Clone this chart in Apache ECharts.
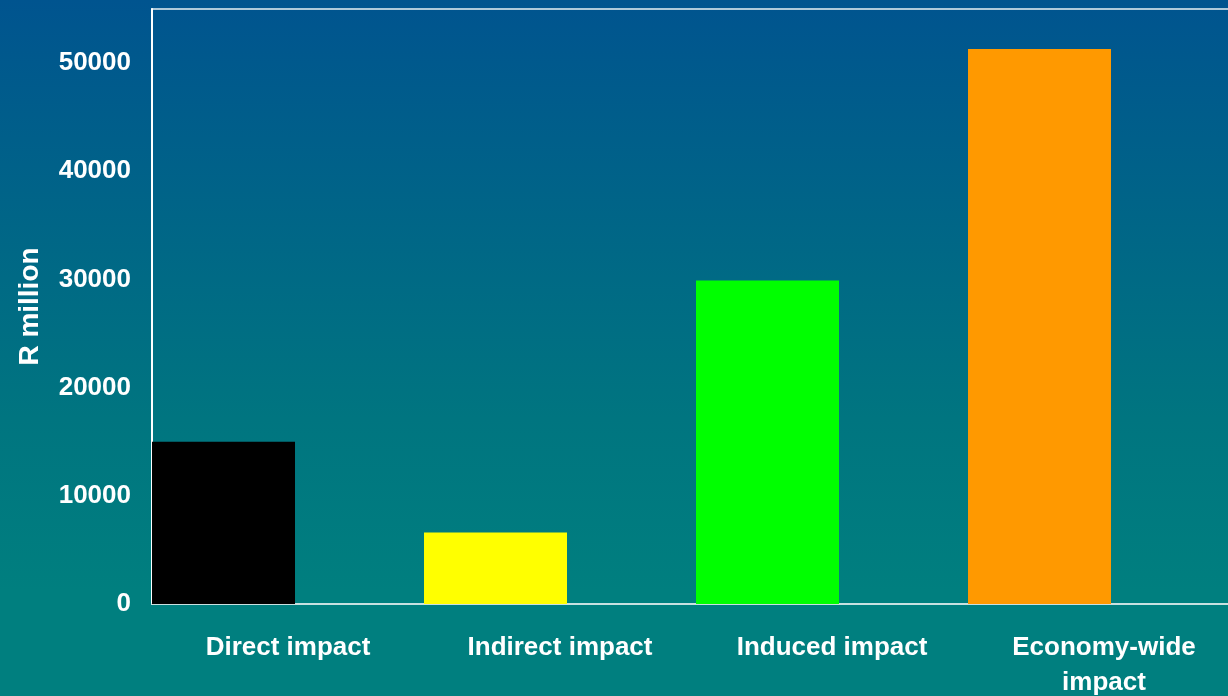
<!DOCTYPE html>
<html>
<head>
<meta charset="utf-8">
<script src="https://cdn.jsdelivr.net/npm/echarts@6/dist/echarts.min.js"></script>
<style>
html,body{margin:0;padding:0;}
#chart{width:1228px;height:696px;}
</style>
</head>
<body>
<div id="chart"></div>
<script>
const categories = ['Direct impact', 'Indirect impact', 'Induced impact', 'Economy-wide\nimpact'];
const values = [15000, 6600, 29900, 51300];
const barColors = ['#000000', '#ffff00', '#00ff00', '#ff9900'];
const yTicks = [0, 10000, 20000, 30000, 40000, 50000];
const yTitle = 'R million';

const chart = echarts.init(document.getElementById('chart'));
const font = '"Liberation Sans", Arial, sans-serif';
chart.setOption({
  animation: false,
  backgroundColor: {
    type: 'linear', x: 0, y: 0, x2: 0, y2: 1,
    colorStops: [
      { offset: 0, color: '#00548f' },
      { offset: 0.6, color: '#007580' },
      { offset: 0.85, color: '#007f7f' },
      { offset: 1, color: '#007f7f' }
    ]
  },
  grid: { left: 152, right: -12, top: 9, bottom: 92, outerBoundsMode: 'none', containLabel: false, show: true, borderColor: '#e8f0f4', borderWidth: 1.5, backgroundColor: 'transparent' },
  xAxis: {
    type: 'category',
    data: categories,
    axisLine: { show: true, lineStyle: { color: '#c8e0e0', width: 2 } },
    axisTick: { show: false },
    axisLabel: { color: '#ffffff', fontSize: 26, fontWeight: 'bold', fontFamily: font, margin: 26, lineHeight: 35, interval: 0 },
    splitLine: { show: false }
  },
  yAxis: {
    type: 'value',
    min: 0, max: 55000, interval: 10000,
    name: yTitle,
    nameLocation: 'middle',
    nameRotate: 90,
    nameGap: 108,
    nameTextStyle: { color: '#ffffff', fontSize: 28, fontWeight: 'bold', fontFamily: font },
    axisLine: { show: true, lineStyle: { color: '#ffffff', width: 2 } },
    axisTick: { show: false },
    splitLine: { show: false },
    axisLabel: {
      color: '#ffffff', fontSize: 26, fontWeight: 'bold', fontFamily: font, margin: 21,
      formatter: function (v) { return yTicks.indexOf(v) >= 0 ? String(v) : ''; }
    }
  },
  series: [
    {
      type: 'bar',
      data: values.map((v, i) => ({ value: v, itemStyle: { color: barColors[i] } })),
      barWidth: 143,
      barGap: '-9.8%'
    },
    {
      type: 'bar',
      data: values.map(() => 0),
      barWidth: 143,
      itemStyle: { color: 'transparent' },
      silent: true
    }
  ]
});
</script>
</body>
</html>
